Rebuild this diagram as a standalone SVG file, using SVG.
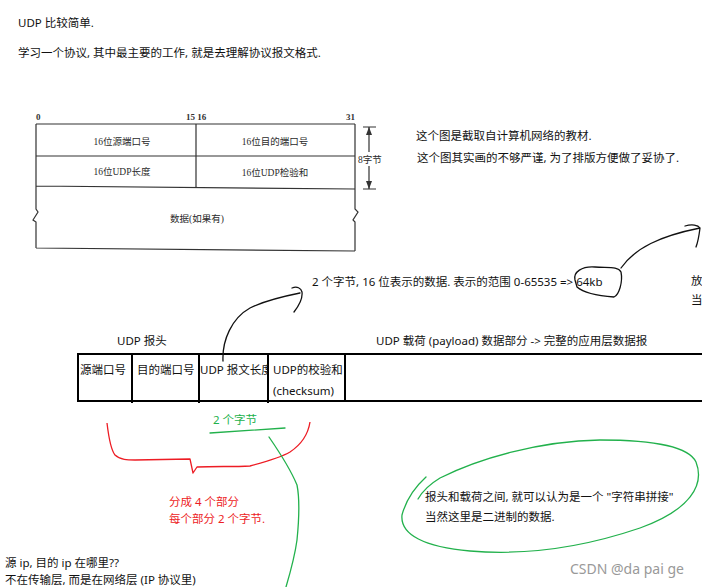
<svg xmlns="http://www.w3.org/2000/svg" width="702" height="587" viewBox="0 0 702 587">
<style>
text{font-family:"Noto Sans","Noto Sans CJK SC",sans-serif;font-size:11.5px;fill:#111}
.book{font-family:"Liberation Serif","Noto Sans CJK SC",serif;font-size:9.5px;fill:#2a2a2a}
.num{font-family:"Liberation Serif",serif;font-size:9px;font-weight:bold;fill:#333}
.bl{stroke:#333;stroke-width:1.2;fill:none}
.tbl{stroke:#000;stroke-width:2;fill:none}
.red{fill:#ed1c24}
.grn{fill:#22b14c}
.ink{stroke:#111;stroke-width:1.3;fill:none;stroke-linecap:round;stroke-linejoin:round}
.rs{stroke:#ed1c24;stroke-width:1.3;fill:none;stroke-linejoin:round}
.gs{stroke:#22b14c;stroke-width:1.3;fill:none;stroke-linecap:round}
.wm{fill:#999;font-size:14px}
</style>
<defs>
<clipPath id="c3"><rect x="199" y="354" width="69" height="47"/></clipPath>
</defs>
<rect width="702" height="587" fill="#fff"/>

<g id="intro">
<text x="18" y="27">UDP 比较简单.</text>
<text x="18" y="57">学习一个协议, 其中最主要的工作, 就是去理解协议报文格式.</text>
</g>

<g id="textbook-figure">
<text class="num" x="36" y="120">0</text>
<text class="num" x="186" y="120">15 16</text>
<text class="num" x="346" y="120">31</text>
<path class="bl" d="M36 124 H355 M36 156 H355 M36 186 L355 189 M196 124 V187 M36 124 V209 L38 212 L33 220 L36 222 V248 M355 124 V209 L358 212 L353 220 L355 222 V251 M36 248 L355 251"/>
<text class="book" x="122" y="145" text-anchor="middle">16位源端口号</text>
<text class="book" x="275" y="145" text-anchor="middle">16位目的端口号</text>
<text class="book" x="122" y="175" text-anchor="middle">16位UDP长度</text>
<text class="book" x="275" y="176" text-anchor="middle">16位UDP检验和</text>
<text class="book" x="197" y="222" text-anchor="middle">数据(如果有)</text>
<path class="bl" d="M363 127 H376 M363 189 H376 M369 127 V152 M369 166 V189"/>
<path d="M369 127 L366 135 H372 Z M369 189 L366 181 H372 Z" fill="#333"/>
<text class="book" x="370" y="163" text-anchor="middle" font-size="9px">8字节</text>
</g>

<g id="note-textbook">
<text x="416" y="140">这个图是截取自计算机网络的教材.</text>
<text x="417" y="162">这个图其实画的不够严谨, 为了排版方便做了妥协了.</text>
</g>

<g id="note-length">
<text x="312" y="286" font-size="12px">2 个字节, 16 位表示的数据. 表示的范围 0-65535 =&gt; 64kb</text>
</g>

<g id="note-clipped">
<text x="691" y="285">放</text>
<text x="691" y="304">当</text>
</g>

<g id="udp-header">
<text x="117" y="345">UDP 报头</text>
<text x="376" y="345">UDP 载荷 (payload) 数据部分 -&gt; 完整的应用层数据报</text>
<path class="tbl" d="M78 354 H702 M78 401 H702 M78 353 V402 M132 354 V403 M199 354 V403 M268 354 V403 M345 354 V402"/>
<g id="cell-src"><text x="80" y="374">源端口号</text></g>
<g id="cell-dst"><text x="137" y="374">目的端口号</text></g>
<g id="cell-len"><text x="200" y="374" clip-path="url(#c3)">UDP 报文长度</text></g>
<g id="cell-sum"><text x="273" y="374">UDP的校验和</text><text x="273" y="395">(checksum)</text></g>
</g>

<g id="connectors">
<path class="ink" d="M575 280 C573 272 582 266 595 267 C608 268 618 266 621 272 C623 282 619 295 614 297 C600 296 585 294 577 287 Z"/>
<path class="ink" d="M621 268 C635 248 660 236 700 228 M685 226 C692 224 698 225 700 228 C699 236 698 242 696 247"/>
<path class="ink" d="M223 361 C222 340 232 318 250 308 C266 300 285 296 300 293 M292 288 C297 286 301 288 302 292 C303 300 298 307 294 312"/>
<path class="rs" d="M107 423 C109 440 111 450 115 455 C120 460 128 460 135 460 L190 459 L193 473 L197 467 C215 466 232 467 250 466 C265 462 280 458 290 452 C302 444 308 435 310 422"/>
<path class="gs" d="M210 433 L285 428"/>
<path class="gs" d="M269 437 C280 453 290 468 297 485 C300 500 299 520 297 540 C295 555 291 570 286 587"/>
<path class="gs" d="M426 477 C415 487 406 500 402 515 C400 535 425 547 470 551 C530 556 590 545 640 528 C690 510 705 485 696 462 C688 445 650 440 600 440 C540 441 480 458 440 478 C430 484 422 492 418 499"/>
</g>

<g id="brace-labels">
<text class="grn" x="213" y="424">2 个字节</text>
<text class="red" x="169" y="506">分成 4 个部分</text>
<text class="red" x="169" y="523">每个部分 2 个字节.</text>
</g>

<g id="note-concat">
<text x="425" y="501">报头和载荷之间, 就可以认为是一个 "字符串拼接"</text>
<text x="425" y="521">当然这里是二进制的数据.</text>
</g>

<g id="note-ip">
<text x="5" y="567">源 ip, 目的 ip 在哪里??</text>
<text x="5" y="584">不在传输层, 而是在网络层 (IP 协议里)</text>
</g>

<text class="wm" x="570" y="574">CSDN @da pai ge</text>
</svg>
